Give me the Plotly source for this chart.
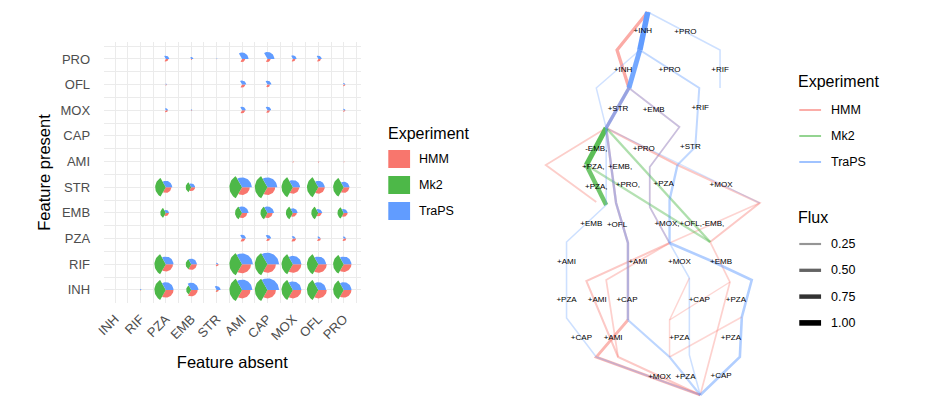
import numpy as np
import plotly.graph_objects as go

W, H = 930, 416

# ---------------- data ----------------
features = ["INH", "RIF", "PZA", "EMB", "STR", "AMI", "CAP", "MOX", "OFL", "PRO"]
experiments = ["HMM", "Mk2", "TraPS"]
exp_colors = {"HMM": "#F8766D", "Mk2": "#4DB848", "TraPS": "#619CFF"}

# rows: feature present (INH..PRO), columns: feature absent (INH..PRO)
hmm_size = [
    [0, 0.03, 0.30, 0.25, 0.08, 0.33, 0.33, 0.33, 0.33, 0.30],
    [0, 0, 0.28, 0.22, 0.08, 0.35, 0.33, 0.33, 0.33, 0.30],
    [0, 0, 0, 0.02, 0, 0.12, 0.10, 0.12, 0.10, 0.10],
    [0, 0, 0.12, 0, 0, 0.20, 0.20, 0.15, 0.13, 0.15],
    [0, 0, 0.22, 0.15, 0, 0.30, 0.30, 0.25, 0.25, 0.22],
    [0, 0, 0, 0, 0, 0, 0.03, 0.04, 0.04, 0.03],
    [0, 0, 0, 0, 0, 0.02, 0, 0.02, 0.02, 0.02],
    [0, 0, 0.08, 0.03, 0, 0.12, 0.10, 0, 0.02, 0.06],
    [0, 0, 0.04, 0.02, 0, 0.12, 0.10, 0.02, 0, 0.06],
    [0, 0, 0.10, 0.04, 0.02, 0.12, 0.12, 0.10, 0.10, 0],
]
mk2_size = [
    [0, 0, 0.45, 0.20, 0.03, 0.50, 0.50, 0.45, 0.45, 0.42],
    [0, 0, 0.45, 0.22, 0, 0.50, 0.50, 0.45, 0.45, 0.42],
    [0, 0, 0, 0, 0, 0, 0, 0, 0, 0],
    [0, 0, 0.22, 0, 0, 0.28, 0.28, 0.28, 0.28, 0.25],
    [0, 0, 0.42, 0.22, 0, 0.50, 0.50, 0.45, 0.45, 0.42],
    [0, 0, 0, 0, 0, 0, 0, 0, 0, 0],
    [0, 0, 0, 0, 0, 0, 0, 0, 0, 0],
    [0, 0, 0, 0, 0, 0, 0, 0, 0, 0],
    [0, 0, 0, 0, 0, 0, 0, 0, 0, 0],
    [0, 0, 0, 0, 0, 0, 0, 0, 0, 0],
]
traps_size = [
    [0, 0.04, 0.30, 0.28, 0.15, 0.40, 0.45, 0.33, 0.30, 0.30],
    [0, 0, 0.30, 0.22, 0.06, 0.42, 0.45, 0.33, 0.30, 0.30],
    [0, 0, 0, 0.02, 0, 0.15, 0.14, 0.10, 0.08, 0.08],
    [0, 0, 0.12, 0, 0, 0.25, 0.25, 0.18, 0.15, 0.15],
    [0, 0, 0.25, 0.15, 0, 0.38, 0.38, 0.28, 0.25, 0.22],
    [0, 0, 0, 0, 0, 0, 0.03, 0.02, 0.02, 0.02],
    [0, 0, 0, 0, 0, 0.02, 0, 0.02, 0.02, 0.02],
    [0, 0, 0.08, 0.04, 0, 0.14, 0.14, 0, 0.02, 0.06],
    [0, 0, 0.04, 0.02, 0, 0.16, 0.15, 0.02, 0, 0.06],
    [0, 0, 0.13, 0.08, 0.03, 0.25, 0.27, 0.14, 0.13, 0],
]
sizes = {"HMM": hmm_size, "Mk2": mk2_size, "TraPS": traps_size}

# network: node layout positions
net_nodes = {
    "A": (645, 12), "B1": (614, 50), "B2": (637, 50), "B3": (718, 50),
    "C1": (593, 88), "C2": (626, 88), "C3": (697, 88), "C4": (718, 88),
    "D1": (603, 128), "D2": (677, 127), "D3": (693, 147),
    "E1": (542, 165), "E2": (583, 165), "E3": (675, 165), "E4": (647, 167),
    "F1": (603, 205), "F2": (613, 203), "F3": (593, 202), "F4": (647, 207),
    "F5": (758, 203), "F6": (667, 200),
    "G1": (563, 242), "G2": (625, 243), "G3": (667, 243), "G4": (708, 242),
    "H1": (583, 281), "H2": (603, 280), "H3": (687, 278), "H4": (707, 260),
    "H5": (750, 280), "H6": (728, 282),
    "I1": (563, 318), "I2": (625, 320), "I3": (667, 320), "I4": (718, 320),
    "I5": (740, 317),
    "J1": (593, 357), "J2": (615, 357), "J3": (687, 355), "J4": (738, 357),
    "J5": (667, 357), "Z": (698, 395),
}
# (experiment, path through nodes, flux)
net_edges = [
    ("HMM", ["A", "B1", "C2"], 0.5),
    ("HMM", ["C2", "D1"], 0.45),
    ("HMM", ["D1", "E1", "F3"], 0.18),
    ("HMM", ["D1", "E3"], 0.3),
    ("HMM", ["E3", "F5", "G4"], 0.22),
    ("HMM", ["D1", "F2", "G2", "I2"], 0.3),
    ("HMM", ["I2", "J1", "Z"], 0.4),
    ("HMM", ["G3", "H1", "J2", "Z"], 0.22),
    ("HMM", ["G3", "H2", "J2"], 0.16),
    ("HMM", ["C2", "D2", "E4", "F4", "G3"], 0.15),
    ("HMM", ["F5", "G3"], 0.12),
    ("HMM", ["G4", "H6", "I4", "Z"], 0.15),
    ("HMM", ["I3", "H6"], 0.1),
    ("HMM", ["H3", "I3", "J5"], 0.1),
    ("HMM", ["J5", "I5"], 0.1),
    ("Mk2", ["D1", "E2"], 0.9),
    ("Mk2", ["E2", "F1"], 0.75),
    ("Mk2", ["D1", "G4"], 0.3),
    ("Mk2", ["E2", "G4"], 0.25),
    ("TraPS", ["A", "B2"], 1.0),
    ("TraPS", ["B2", "C2"], 0.85),
    ("TraPS", ["C2", "D1"], 0.55),
    ("TraPS", ["A", "B3", "C4"], 0.12),
    ("TraPS", ["B2", "C3", "D3", "E3"], 0.22),
    ("TraPS", ["E3", "F6", "G3"], 0.3),
    ("TraPS", ["B2", "C1", "D1"], 0.1),
    ("TraPS", ["D1", "F2", "G2", "I2"], 0.3),
    ("TraPS", ["C2", "D2", "E4", "F4", "G3"], 0.15),
    ("TraPS", ["G3", "H4", "H5", "I5", "J4", "Z"], 0.35),
    ("TraPS", ["G3", "H3", "J3", "Z"], 0.12),
    ("TraPS", ["D1", "F1", "G1", "I1", "J1"], 0.12),
    ("TraPS", ["J1", "Z"], 0.15),
    ("TraPS", ["I2", "J5", "Z"], 0.25),
    ("TraPS", ["D1", "F5"], 0.08),
]
net_labels = [
    ("+INH", 640, 31), ("+PRO", 683, 32),
    ("+INH", 620, 70), ("+PRO", 667, 70), ("+RIF", 718, 70),
    ("+STR", 615, 109), ("+EMB", 651, 110), ("+RIF", 698, 108),
    ("-EMB,", 593, 149), ("+PRO", 641, 149), ("+STR", 688, 147),
    ("+PZA,", 590, 167), ("+EMB,", 617, 167),
    ("+PZA,", 593, 187), ("+PRO,", 625, 185), ("+PZA", 661, 184), ("+MOX", 719, 185),
    ("+EMB", 588, 224), ("+OFL", 614, 225), ("+MOX,+OFL,-EMB,", 687, 224),
    ("+AMI", 563, 262), ("+AMI", 635, 262), ("+MOX", 677, 262), ("+EMB", 719, 262),
    ("+PZA", 563, 300), ("+AMI", 594, 300), ("+CAP", 624, 300), ("+CAP", 697, 300), ("+PZA", 734, 300),
    ("+CAP", 578, 338), ("+AMI", 610, 338), ("+PZA", 677, 338), ("+PZA", 729, 338),
    ("+MOX", 657, 377), ("+PZA", 683, 377), ("+CAP", 719, 376),
]
flux_breaks = [0.25, 0.50, 0.75, 1.00]

# ---------------- helpers ----------------
def px(x):
    return x / W

def py(y):
    return 1 - y / H

def hex_rgba(h, a):
    h = h.lstrip("#")
    r, g, b = int(h[0:2], 16), int(h[2:4], 16), int(h[4:6], 16)
    return f"rgba({r},{g},{b},{a:.3f})"

def flux_width(f):
    return 1 + 4.6 * f

def flux_alpha(f):
    return min(1.0, 0.22 + 0.78 * f)

fig = go.Figure()

# ---------------- left: sector glyphs ----------------
angles = {"TraPS": (0, 120), "Mk2": (120, 240), "HMM": (240, 360)}
for exp in experiments:
    xs, ys = [], []
    mat = sizes[exp]
    a0, a1 = angles[exp]
    t = np.radians(np.linspace(a0, a1, 24))
    for ri, row in enumerate(mat):
        for ci, r in enumerate(row):
            if r <= 0:
                continue
            cx, cy = ci + 1, ri + 1
            xs += [cx] + list(cx + r * np.cos(t)) + [cx, None]
            ys += [cy] + list(cy + r * np.sin(t)) + [cy, None]
    fig.add_trace(go.Scatter(x=xs, y=ys, fill="toself", fillcolor=exp_colors[exp],
                             mode="lines", line=dict(width=0, color=exp_colors[exp]),
                             xaxis="x", yaxis="y", showlegend=False, hoverinfo="skip"))

# ---------------- right: network ----------------
for exp in experiments:
    for e_exp, path, flux in net_edges:
        if e_exp != exp:
            continue
        xs = [net_nodes[n][0] for n in path]
        ys = [net_nodes[n][1] for n in path]
        fig.add_trace(go.Scatter(x=xs, y=ys, mode="lines",
                                 line=dict(color=hex_rgba(exp_colors[exp], flux_alpha(flux)),
                                           width=flux_width(flux)),
                                 xaxis="x2", yaxis="y2", showlegend=False, hoverinfo="skip"))

fig.add_trace(go.Scatter(x=[l[1] for l in net_labels], y=[l[2] for l in net_labels],
                         text=[l[0] for l in net_labels], mode="text",
                         textfont=dict(size=8, color="black", family="Liberation Sans, Arial"),
                         xaxis="x2", yaxis="y2", showlegend=False, hoverinfo="skip"))

# ---------------- layout ----------------
grid = "#EBEBEB"
tickfont = dict(size=13, color="#4D4D4D", family="Liberation Sans, Arial")
fig.update_layout(
    width=W, height=H, margin=dict(l=0, r=0, t=0, b=0),
    paper_bgcolor="white", plot_bgcolor="white",
    font=dict(family="Liberation Sans, Arial", color="black"),
    xaxis=dict(domain=[px(96), px(355)], range=[0.57, 10.66],
               tickvals=list(range(1, 11)), ticktext=features, tickangle=-45,
               tickfont=tickfont, showgrid=True, gridcolor=grid, gridwidth=1,
               minor=dict(tickvals=[i + 0.5 for i in range(0, 11)], showgrid=True,
                          gridcolor=grid, gridwidth=0.6),
               zeroline=False, showline=False, ticks="", ticklabelstandoff=5,
               title=dict(text="Feature absent", font=dict(size=16.5, color="black"), standoff=14),
               anchor="y", fixedrange=True),
    yaxis=dict(domain=[py(303), py(42)], range=[0.49, 10.66],
               tickvals=list(range(1, 11)), ticktext=features,
               tickfont=tickfont, showgrid=True, gridcolor=grid, gridwidth=1,
               minor=dict(tickvals=[i + 0.5 for i in range(0, 11)], showgrid=True,
                          gridcolor=grid, gridwidth=0.6),
               zeroline=False, showline=False, ticks="", ticklabelstandoff=13,
               title=dict(text="Feature present", font=dict(size=16.5, color="black"), standoff=5),
               anchor="x", fixedrange=True),
    xaxis2=dict(domain=[px(520), px(780)], range=[520, 780], visible=False,
                anchor="y2", fixedrange=True),
    yaxis2=dict(domain=[0, 1], range=[416, 0], visible=False, anchor="x2", fixedrange=True),
)

shapes, annots = [], []
# left legend
annots.append(dict(x=px(381), y=py(133), xref="paper", yref="paper", text="Experiment",
                   showarrow=False, xanchor="left", yanchor="middle", font=dict(size=16)))
for i, exp in enumerate(experiments):
    yc = 159 + 26 * i
    shapes.append(dict(type="rect", xref="paper", yref="paper", x0=px(383), x1=px(405),
                       y0=py(yc - 9), y1=py(yc + 9), fillcolor=exp_colors[exp],
                       line=dict(width=0)))
    annots.append(dict(x=px(412), y=py(yc), xref="paper", yref="paper", text=exp,
                       showarrow=False, xanchor="left", yanchor="middle", font=dict(size=12.5)))

# right legend: experiment
annots.append(dict(x=px(795), y=py(82), xref="paper", yref="paper", text="Experiment",
                   showarrow=False, xanchor="left", yanchor="middle", font=dict(size=16)))
for i, exp in enumerate(experiments):
    yc = 110 + 26 * i
    shapes.append(dict(type="line", xref="paper", yref="paper", x0=px(798), x1=px(820),
                       y0=py(yc), y1=py(yc), line=dict(color=exp_colors[exp], width=1.2)))
    annots.append(dict(x=px(828), y=py(yc), xref="paper", yref="paper", text=exp,
                       showarrow=False, xanchor="left", yanchor="middle", font=dict(size=12.5)))
# right legend: flux
annots.append(dict(x=px(795), y=py(217), xref="paper", yref="paper", text="Flux",
                   showarrow=False, xanchor="left", yanchor="middle", font=dict(size=16)))
for i, f in enumerate(flux_breaks):
    yc = 244 + 26.3 * i
    shapes.append(dict(type="line", xref="paper", yref="paper", x0=px(798), x1=px(820),
                       y0=py(yc), y1=py(yc),
                       line=dict(color=f"rgba(0,0,0,{flux_alpha(f):.3f})", width=flux_width(f))))
    annots.append(dict(x=px(828), y=py(yc), xref="paper", yref="paper", text=f"{f:.2f}",
                       showarrow=False, xanchor="left", yanchor="middle", font=dict(size=12.5)))

fig.update_layout(shapes=shapes, annotations=annots)
fig.write_html("out.html", config={"displayModeBar": False},
               post_script="document.body.style.margin='0';document.body.style.padding='0';")
